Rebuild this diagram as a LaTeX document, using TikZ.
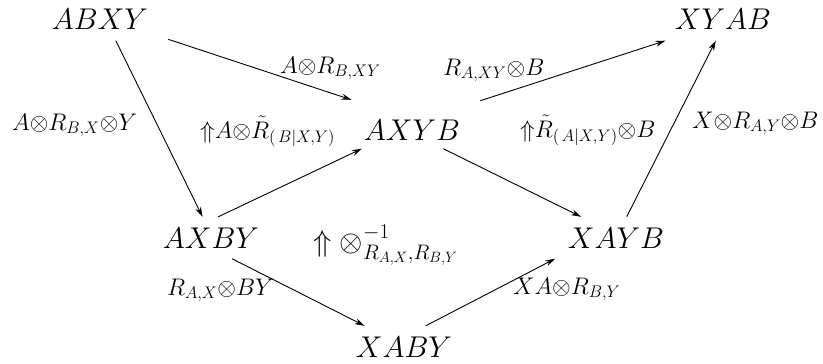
\documentclass[tikz,border=0pt]{standalone}
\usepackage{fix-cm}
\usepackage{amsmath,amssymb}
\usetikzlibrary{arrows.meta}

\begin{document}
\begin{tikzpicture}[x=1pt, y=-1pt,
	obj/.style={anchor=base, inner xsep=20pt, inner ysep=10.5pt, font=\fontsize{30}{36}\selectfont},
	lab/.style={anchor=base west, inner sep=0pt, font=\fontsize{24}{29}\selectfont},
	arr/.style={-{Stealth[length=10pt,width=6pt]}, line width=0.9pt}]
	\useasboundingbox (0,0) rectangle (823,364);
	% the six objects
	\node[obj] (ABXY) at (100,30) {$ABXY$};
	\node[obj] (XYAB) at (723,30) {$XYAB$};
	\node[obj, text height=31.5pt, inner ysep=8.5pt] (AXYB) at (412,140) {$AXYB$};
	\node[obj] (AXBY) at (211,248) {$AXBY$};
	\node[obj] (XAYB) at (616,248) {$XAYB$};
	\node[obj] (XABY) at (404,357) {$XABY$};
	% 1-cells
	\draw[arr] (ABXY.-53.5) -- (AXBY.112.8);
	\draw[arr] (ABXY.-16.6) -- (AXYB.158.6);
	\draw[arr] (AXBY.71.4) -- (AXYB.206.3);
	\draw[arr] (AXYB.19.6) -- (XYAB.200.3);
	\draw[arr] (AXYB.-38.4) -- (XAYB.149.6);
	\draw[arr] (XAYB.63.2) -- (XYAB.251);
	\draw[arr] (AXBY.-45.3) -- (XABY.152.6);
	\draw[arr] (XABY.44.7) -- (XAYB.199.4);
	% labels
	\node[lab] (l-ab) at (280,73) {$A{\otimes}R_{B,XY}$};
	\node[lab] (l-ay) at (443,75) {$R_{A,XY}{\otimes}B$};
	\node[lab] (l-bx) at (12,130) {$A{\otimes}R_{B,X}{\otimes}Y$};
	\node[lab] (l-xy) at (692,128) {$X{\otimes}R_{A,Y}{\otimes}B$};
	\node[lab] (l-rx) at (167,295) {$R_{A,X}{\otimes}BY$};
	\node[lab] (l-ry) at (513,294) {$XA{\otimes}R_{B,Y}$};
	% 2-cells
	\node[lab] (c-b) at (200,138) {${\Uparrow}A{\otimes}\tilde{R}_{(\,B|X,Y)}$};
	\node[lab] (c-a) at (520,137) {${\Uparrow}\tilde{R}_{(\,A|X,Y)}{\otimes}B$};
	\node[lab, font=\fontsize{30}{36}\selectfont] (c-m) at (313,251) {$\Uparrow\otimes^{-1}_{R_{A,X},R_{B,Y}}$};
\end{tikzpicture}
\end{document}
